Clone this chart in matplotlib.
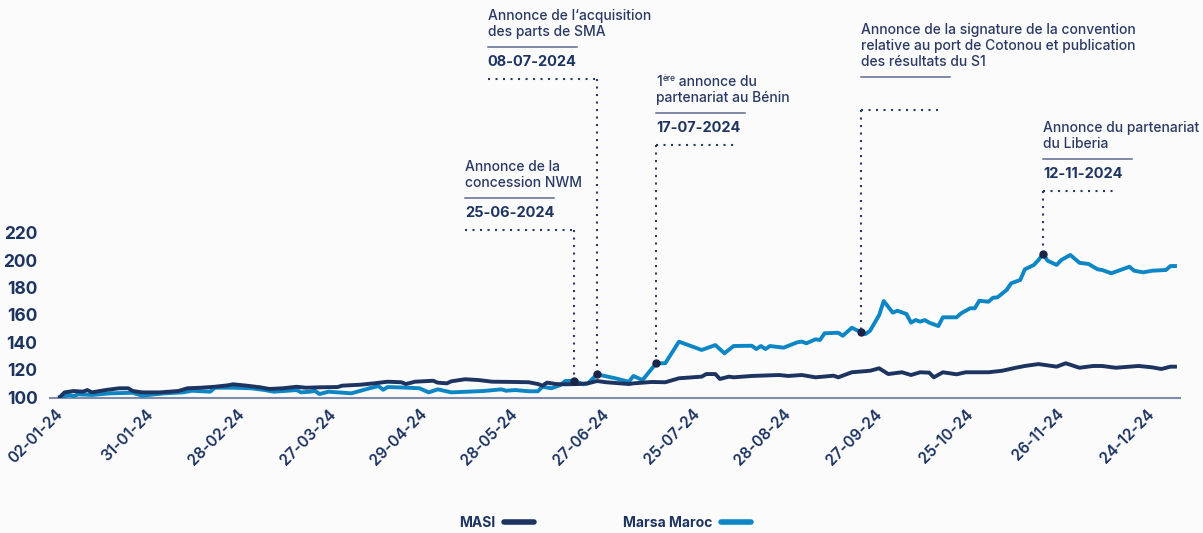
import numpy as np
import matplotlib.pyplot as plt
from matplotlib.lines import Line2D

plt.rcParams['font.family'] = ['Inter', 'DejaVu Sans']

NAVY = '#1d3461'
BLUE = '#0c86c4'
TEXT = '#2a3a64'
BG = '#fbfbfc'

# x axis = trading day index (one label every 20 sessions)
tick_days = list(range(0, 241, 20))
tick_labels = ['02-01-24', '31-01-24', '28-02-24', '27-03-24', '29-04-24', '28-05-24',
               '27-06-24', '25-07-24', '28-08-24', '27-09-24', '25-10-24', '26-11-24',
               '24-12-24']
y_ticks = [100, 120, 140, 160, 180, 200, 220]

masi_day = [0, 1, 3, 5, 6, 7, 10, 13, 15, 16, 18, 22, 26, 28, 31, 34, 37, 38, 41, 44,
            46, 49, 52, 54, 57, 61, 62, 66, 69, 72, 75, 76, 78, 82, 83, 85, 86, 89, 92, 95,
            100, 103, 105, 106, 107, 109, 111, 114, 116, 118, 120, 125, 126, 130, 133, 136,
            141, 142, 144, 145, 147, 148, 152, 158, 160, 163, 166, 170, 171, 174, 178, 180,
            182, 185, 187, 189, 191, 192, 194, 197, 199, 204, 207, 210, 212, 215, 219, 221,
            224, 227, 229, 232, 235, 237, 240, 242, 244, 245]
masi_val = [100, 103.4, 104.4, 103.9, 105.1, 103.4, 105.1, 106.4, 106.4, 104.4, 103.4, 103.4,
            104.4, 106.4, 106.8, 107.5, 108.6, 109.3, 108.3, 107.1, 105.9, 106.4, 107.5, 106.8,
            107.1, 107.3, 108.3, 109, 110, 111.2, 110.8, 109.5, 111.2, 111.9, 110.5, 110, 111.5,
            113, 112.4, 111.2, 111, 110.8, 109.5, 108.3, 110.5, 109.5, 109.3, 109.5, 110, 111.7,
            110.8, 109.5, 110, 111, 110.8, 113.7, 114.9, 116.8, 116.8, 113.2, 114.9, 114.4,
            115.4, 116.1, 115.4, 116.1, 114.4, 115.6, 114.4, 118.1, 119.2, 121, 116.8, 118.1,
            116.1, 118.1, 117.8, 114.4, 118.1, 116.6, 118.1, 118.1, 119.2, 121.4, 122.7, 124.1,
            122.2, 124.7, 121.4, 122.7, 122.7, 121.4, 122.2, 122.7, 121.7, 120.5, 122.2, 122.2]

marsa_day = [0, 2, 3, 4, 7, 11, 16, 18, 20, 23, 27, 29, 33, 34, 38, 42, 45, 47, 50, 52,
             53, 55, 56, 57, 59, 64, 68, 70, 71, 72, 75, 79, 81, 83, 86, 93, 97, 98, 100, 103,
             105, 106, 108, 110, 111, 113, 115, 116, 118, 122, 125, 126, 128, 131, 133, 136,
             141, 144, 146, 148, 152, 153, 154, 155, 156, 159, 162, 163, 164, 166, 167, 168,
             171, 172, 174, 175, 177, 178, 180, 181, 183, 184, 186, 187, 188, 189, 190, 191,
             193, 194, 197, 198, 200, 201, 202, 204, 205, 206, 208, 209, 211, 212, 214, 215,
             216, 217, 219, 220, 222, 224, 226, 228, 229, 231, 233, 235, 236, 238, 240, 243,
             244, 245]
marsa_val = [100, 101.5, 100.7, 102, 101.5, 102.7, 103.1, 101, 101.7, 102.7, 103.4, 104.6,
             103.9, 106.8, 106.8, 106.4, 105.1, 103.9, 104.6, 105.1, 103.4, 103.9, 104.6, 102.2,
             103.9, 102.7, 106.4, 108, 105.3, 107.3, 107, 106.4, 103.4, 105.6, 103.4, 104.4,
             105.6, 104.6, 105.1, 104.2, 104.2, 107.5, 106.4, 108.8, 111.7, 111.9, 109.3, 110,
             116.6, 113.7, 111.2, 115.4, 112.4, 124.7, 124.7, 140.5, 134.4, 138, 132, 137.3,
             137.5, 135.1, 137.3, 135.1, 137.3, 136.1, 140, 140.5, 139.3, 142.2, 141.7, 146.6,
             147, 144.8, 150.7, 149, 146.1, 148.5, 160, 170.2, 161.7, 163.1, 160.7, 154.4,
             156.3, 155.1, 156.3, 154.4, 151.9, 158.3, 158.3, 161.2, 164.9, 164.9, 170.4, 169.7,
             172.6, 172.9, 178.3, 183.2, 185.6, 193.4, 196.6, 200.2, 204.8, 199.7, 196.6, 200.2,
             203.9, 198.2, 197.3, 193.4, 192.9, 190.5, 192.9, 195.3, 192.4, 191.2, 192.4, 192.9,
             195.8, 195.8]

event_day = [113, 118, 131, 176, 216]
event_title = [
    ['Annonce de la', 'concession NWM'],
    ["Annonce de l\u2018acquisition", 'des parts de SMA'],
    ['1', 'partenariat au Bénin'],
    ['Annonce de la signature de la convention',
     'relative au port de Cotonou et publication',
     'des résultats du S1'],
    ['Annonce du partenariat', 'du Liberia'],
]
event_date = ['25-06-2024', '08-07-2024', '17-07-2024', '', '12-11-2024']

# layout of the annotation blocks (pixel rows of first text line, text start day)
first_row = [167, 16, 82, 30, 128]
text_day = [89, 94, 131, 176, 216]
dot_end = [113, 118, 148, 193, 232]

W, H = 1203, 533
Y_BOT, Y_TOP = 99.5, 390.4
AX_H = 397.7


def yd(py):
    # pixel row (from top of figure) -> data value
    return Y_BOT + (AX_H - py) * (Y_TOP - Y_BOT) / AX_H


fig = plt.figure(figsize=(W / 100, H / 100), dpi=100, facecolor=BG)
ax = fig.add_axes([50 / W, (H - AX_H) / H, 1130 / W, AX_H / H])
ax.set_facecolor(BG)

ax.plot(marsa_day, marsa_val, color=BLUE, lw=2.8, solid_joinstyle='round', zorder=3)
ax.plot(masi_day, masi_val, color=NAVY, lw=2.8, solid_joinstyle='round', zorder=4)

ax.set_xlim(-2.2, 246.1)
ax.set_ylim(Y_BOT, Y_TOP)

ax.set_yticks(y_ticks)
ax.set_yticklabels([str(v) for v in y_ticks], fontsize=12.5, fontweight='bold', color=NAVY)
ax.set_xticks(tick_days)
ax.set_xticklabels(tick_labels, rotation=45, ha='right', va='center',
                   rotation_mode='anchor', fontsize=11, fontweight='semibold', color=NAVY)
ax.tick_params(axis='y', length=0, pad=9)
ax.tick_params(axis='x', length=0, pad=10)

for s in ['top', 'right', 'left']:
    ax.spines[s].set_visible(False)
ax.spines['bottom'].set_color('#7f8cab')
ax.spines['bottom'].set_linewidth(1.5)

dot_style = dict(color=TEXT, lw=1.5, linestyle=(0, (1, 2.6)), dash_capstyle='butt',
                 zorder=2, clip_on=False)

for i, d in enumerate(event_day):
    r = first_row[i]
    tx = text_day[i]
    lines = event_title[i]
    for k, line in enumerate(lines):
        if k == 0 and line == '1':
            t1 = ax.text(tx, yd(r), '1', fontsize=10, fontweight='medium', color=TEXT,
                         va='center', ha='left')
            t2 = ax.annotate('ère', xy=(1, 1), xycoords=t1, xytext=(0.4, 0.5),
                             textcoords='offset points', fontsize=6, fontweight='medium',
                             color=TEXT, va='top', ha='left')
            ax.annotate(' annonce du', xy=(1, 0), xycoords=(t2, t1), fontsize=10,
                        fontweight='medium', color=TEXT, va='bottom', ha='left')
        else:
            ax.text(tx, yd(r + 16 * k), line, fontsize=10, fontweight='medium',
                    color=TEXT, va='center', ha='left')
    row = r + 16 * (len(lines) - 1) + 15
    ax.plot([tx, tx + 19.6], [yd(row), yd(row)], color='#5d6b8f', lw=1.1, clip_on=False)
    if event_date[i]:
        row += 15
        ax.text(tx, yd(row), event_date[i], fontsize=10.5, fontweight='bold',
                color=NAVY, va='center', ha='left')
        row += 17
    else:
        row += 33
    ax.plot([tx, dot_end[i]], [yd(row), yd(row)], **dot_style)
    yv = np.interp(d, marsa_day, marsa_val)
    ax.plot([d, d], [yd(row), yv], **dot_style)
    ax.plot(d, yv, 'o', color='#1b2548', ms=5, zorder=6)

handles = [Line2D([0], [0], color=NAVY, lw=4, solid_capstyle='round'),
           Line2D([0], [0], color=BLUE, lw=4, solid_capstyle='round')]
fig.legend(handles, ['MASI', 'Marsa Maroc'], loc='lower center', bbox_to_anchor=(0.503, -0.018),
           ncol=2, frameon=False, markerfirst=False, handlelength=2.2, handletextpad=0.6,
           columnspacing=6.4, prop={'size': 10, 'weight': 'bold'}, labelcolor=NAVY)

fig.savefig('out.png', dpi=100, facecolor=BG)
